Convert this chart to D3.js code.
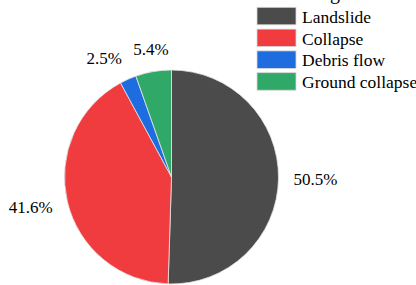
<!DOCTYPE html>
<html>
<head>
<meta charset="utf-8">
<script src="https://cdn.jsdelivr.net/npm/d3@7"></script>
</head>
<body style="margin:0">
<svg id="chart" width="416" height="285"></svg>
<script>
// hazard types and their share (%)
const categories = ['Landslide', 'Collapse', 'Debris flow', 'Ground collapse'];
const values = [50.5, 41.6, 2.5, 5.4];
const colors = ['#4b4b4b', '#f03c3e', '#1d6de0', '#2fa868'];

const cx = 171.5, cy = 177, radius = 107;
const fontName = 'Liberation Serif';

const svg = d3.select('#chart');

const color = d3.scaleOrdinal().domain(categories).range(colors);
const data = categories.map((c, i) => ({ name: c, value: values[i] }));
const pie = d3.pie().value(d => d.value).sort(null);
const arc = d3.arc().innerRadius(0).outerRadius(radius);
const arcs = pie(data);

// percentage labels outside the pie (text kept directly under svg)
const labelRx = 122, labelRy = 130;
svg.selectAll('text.pct')
  .data(arcs)
  .enter()
  .append('text')
  .attr('class', 'pct')
  .attr('x', d => cx + Math.sin((d.startAngle + d.endAngle) / 2) * labelRx)
  .attr('y', d => cy - Math.cos((d.startAngle + d.endAngle) / 2) * labelRy + 6)
  .attr('text-anchor', d => {
    const sx = Math.sin((d.startAngle + d.endAngle) / 2);
    return sx > 0.3 ? 'start' : (sx < -0.3 ? 'end' : 'middle');
  })
  .style('font-family', d => `"${fontName}"`)
  .style('font-size', d => '17px')
  .text(d => d.data.value.toFixed(1) + '%');

// legend labels
const legX = 257, legY = 7.3, rowH = 21.8;
svg.selectAll('text.leg')
  .data(categories)
  .enter()
  .append('text')
  .attr('class', 'leg')
  .attr('x', legX + 45)
  .attr('y', (d, i) => legY + 15.4 + i * rowH)
  .style('font-family', d => `"${fontName}"`)
  .style('font-size', d => '17.5px')
  .text(d => d);

// title is mostly cropped off the top, only a descender shows
svg.append('text')
  .attr('class', 'title')
  .attr('x', 330)
  .attr('y', -1)
  .style('font-family', `"${fontName}"`)
  .style('font-size', '20px')
  .text('g');

// pie slices
svg.selectAll('path.slice')
  .data(arcs)
  .enter()
  .append('path')
  .attr('class', 'slice')
  .attr('transform', `translate(${cx},${cy})`)
  .attr('d', arc)
  .attr('fill', d => color(d.data.name))
  .attr('stroke', '#e4e4e4')
  .attr('stroke-width', 0.8);

// legend swatches
svg.selectAll('rect.sw')
  .data(categories)
  .enter()
  .append('rect')
  .attr('class', 'sw')
  .attr('x', legX)
  .attr('y', (d, i) => legY + i * rowH)
  .attr('width', 39)
  .attr('height', 17.5)
  .attr('fill', d => color(d))
  .attr('stroke', '#d8d8d8')
  .attr('stroke-width', 0.8);
</script>
</body>
</html>
